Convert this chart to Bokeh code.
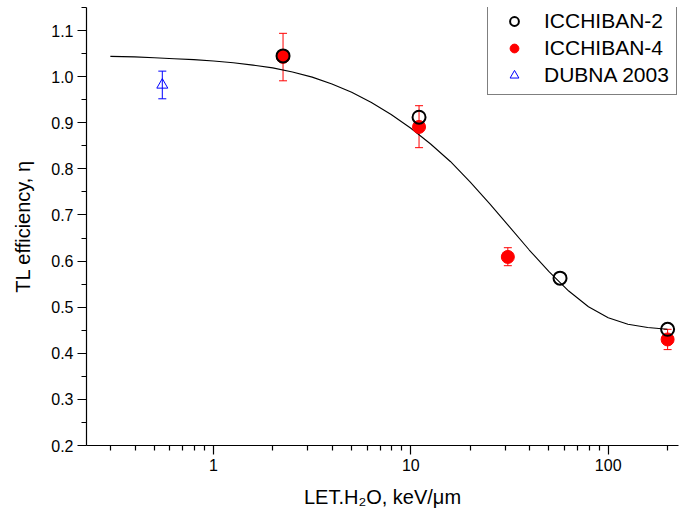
from bokeh.plotting import figure
from bokeh.models import (ColumnDataSource, Range1d, FixedTicker, CustomJSTickFormatter,
                          NumeralTickFormatter, Whisker, TeeHead, Legend, LegendItem)
from bokeh.embed import file_html
from bokeh.resources import INLINE

# ---- data ----
fit_x = [0.3, 0.398, 0.501, 0.631, 0.794, 1.0, 1.259, 1.585, 1.995, 2.512, 3.162,
         3.981, 5.012, 6.31, 7.943, 10.0, 12.59, 15.85, 19.95, 25.12, 31.62, 39.81,
         50.12, 63.1, 79.43, 100.0, 125.9, 158.5, 199.5]
fit_y = [1.044, 1.043, 1.041, 1.039, 1.037, 1.034, 1.030, 1.025, 1.019, 1.010, 0.999,
         0.984, 0.966, 0.944, 0.918, 0.888, 0.854, 0.816, 0.772, 0.724, 0.674, 0.624,
         0.577, 0.535, 0.501, 0.477, 0.463, 0.456, 0.452]

ich2_x = [2.25, 11, 57, 200]
ich2_y = [1.045, 0.912, 0.563, 0.452]

ich4_x = [2.25, 11, 31, 200]
ich4_y = [1.043, 0.891, 0.609, 0.430]
ich4_lo = [0.991, 0.846, 0.590, 0.408]
ich4_hi = [1.094, 0.937, 0.629, 0.452]

dub_x = [0.55]
dub_y = [0.982]
dub_lo = [0.952]
dub_hi = [1.012]

x_major = [1, 10, 100]
x_minor = [0.3, 0.4, 0.5, 0.6, 0.7, 0.8, 0.9, 2, 3, 4, 5, 6, 7, 8, 9,
           20, 30, 40, 50, 60, 70, 80, 90, 200]
y_major = [0.2, 0.3, 0.4, 0.5, 0.6, 0.7, 0.8, 0.9, 1.0, 1.1]
y_minor = [0.25, 0.35, 0.45, 0.55, 0.65, 0.75, 0.85, 0.95, 1.05, 1.15]

FONT = "Liberation Sans"

p = figure(width=681, height=520, x_axis_type="log",
           x_range=Range1d(0.2271, 227.1), y_range=Range1d(0.2, 1.15),
           output_backend="svg", toolbar_location=None,
           min_border_left=86, min_border_right=3, min_border_top=7, min_border_bottom=75)
p.outline_line_color = None
p.xgrid.visible = False
p.ygrid.visible = False
p.background_fill_color = "white"
p.border_fill_color = "white"

# axes
p.xaxis.ticker = FixedTicker(ticks=x_major, minor_ticks=x_minor)
p.xaxis.formatter = CustomJSTickFormatter(code="return tick.toString()")
p.yaxis.ticker = FixedTicker(ticks=y_major, minor_ticks=y_minor)
p.yaxis.formatter = NumeralTickFormatter(format="0.0")
for ax in (p.xaxis[0], p.yaxis[0]):
    ax.axis_line_color = "black"
    ax.axis_line_width = 1.2
    ax.major_tick_line_color = "black"
    ax.minor_tick_line_color = "black"
    ax.major_tick_line_width = 1.2
    ax.minor_tick_line_width = 1.2
    ax.major_tick_in = 0
    ax.minor_tick_in = 0
    ax.major_tick_out = 9
    ax.minor_tick_out = 5
    ax.major_label_text_font = FONT
    ax.major_label_text_font_size = "16px"
    ax.major_label_text_color = "black"
    ax.axis_label_text_font = FONT
    ax.axis_label_text_font_size = "20px"
    ax.axis_label_text_font_style = "normal"
    ax.axis_label_text_color = "black"
p.xaxis.axis_label = "LET.H\u2082O, keV/\u03bcm"
p.yaxis.axis_label = "TL efficiency, \u03b7"
p.xaxis.major_label_standoff = 4
p.yaxis.major_label_standoff = 4
p.xaxis.axis_label_standoff = 12
p.yaxis.axis_label_standoff = 14

# fit curve
p.line(fit_x, fit_y, line_color="black", line_width=1.1)

# error bars
s4 = ColumnDataSource(dict(x=ich4_x, y=ich4_y, lo=ich4_lo, hi=ich4_hi))
sd = ColumnDataSource(dict(x=dub_x, y=dub_y, lo=dub_lo, hi=dub_hi))
w4 = Whisker(source=s4, base="x", lower="lo", upper="hi", dimension="height",
             line_color="red", line_width=1,
             upper_head=TeeHead(size=8, line_color="red", line_width=1),
             lower_head=TeeHead(size=8, line_color="red", line_width=1))
wd = Whisker(source=sd, base="x", lower="lo", upper="hi", dimension="height",
             line_color="blue", line_width=1,
             upper_head=TeeHead(size=8, line_color="blue", line_width=1),
             lower_head=TeeHead(size=8, line_color="blue", line_width=1))
p.add_layout(w4)
p.add_layout(wd)

r4 = p.scatter("x", "y", source=s4, marker="circle", size=13,
               fill_color="red", line_color="red")
rd = p.scatter("x", "y", source=sd, marker="triangle", size=11,
               fill_color=None, line_color="blue", line_width=1)
r2 = p.scatter(ich2_x, ich2_y, marker="circle", size=13,
               fill_color=None, line_color="black", line_width=2)

legend = Legend(items=[LegendItem(label="ICCHIBAN-2", renderers=[r2]),
                       LegendItem(label="ICCHIBAN-4", renderers=[r4]),
                       LegendItem(label="DUBNA 2003", renderers=[rd])],
                location=(401, 350), margin=0, padding=7, spacing=3,
                glyph_width=38, glyph_height=22, label_height=22,
                label_standoff=11,
                border_line_color="black", border_line_width=1,
                background_fill_color="white", background_fill_alpha=1,
                label_text_font=FONT, label_text_font_size="21px",
                label_text_color="black")
p.add_layout(legend)

open("out.html", "w").write(file_html(p, INLINE))
